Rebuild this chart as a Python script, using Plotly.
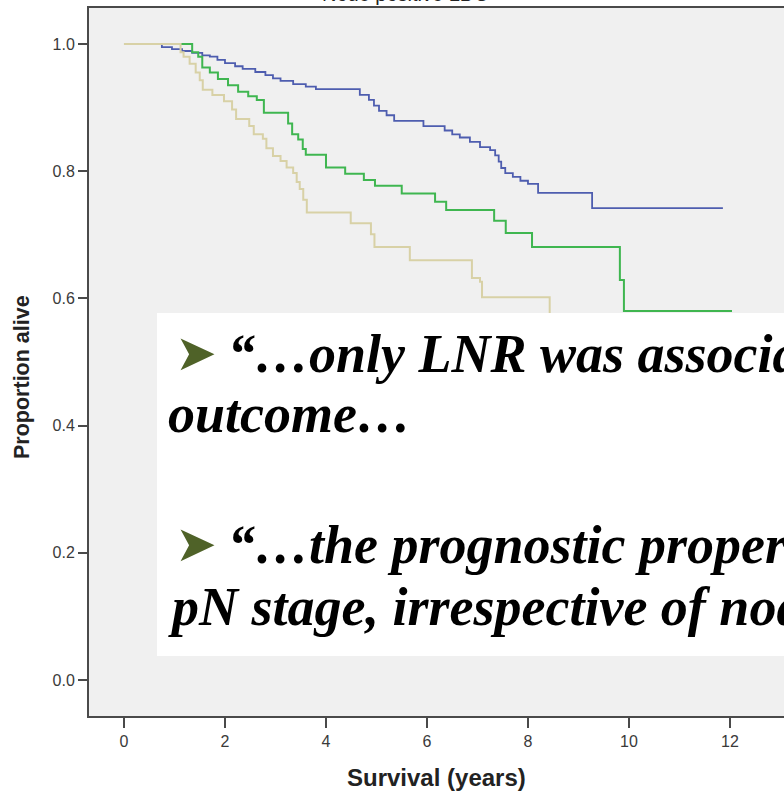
import plotly.graph_objects as go

# Kaplan-Meier step data: event times (years) and survival after each event
times_blue = [0.75, 0.95, 1.15, 1.35, 1.55, 1.70, 1.85, 2.00, 2.20, 2.35, 2.60, 2.80, 2.95,
              3.10, 3.35, 3.60, 3.80, 4.67, 4.85, 4.95, 5.05, 5.20, 5.35, 5.93, 6.35, 6.50,
              6.65, 6.85, 7.05, 7.25, 7.35, 7.42, 7.47, 7.55, 7.70, 7.85, 8.00, 8.20, 9.27]
surv_blue = [0.995, 0.992, 0.989, 0.986, 0.982, 0.980, 0.975, 0.970, 0.965, 0.961, 0.956, 0.951, 0.946,
             0.942, 0.937, 0.933, 0.929, 0.920, 0.912, 0.903, 0.895, 0.888, 0.879, 0.871, 0.864, 0.858,
             0.853, 0.846, 0.838, 0.833, 0.825, 0.815, 0.805, 0.797, 0.791, 0.785, 0.780, 0.766, 0.742]
end_blue = 11.86

times_green = [1.35, 1.47, 1.55, 1.70, 1.86, 2.06, 2.26, 2.46, 2.63, 2.77, 3.25, 3.33, 3.45,
               3.54, 3.60, 4.00, 4.38, 4.75, 4.97, 5.50, 6.16, 6.38, 7.33, 7.56, 8.08, 9.82, 9.90]
surv_green = [0.987, 0.980, 0.963, 0.955, 0.945, 0.935, 0.925, 0.918, 0.912, 0.892, 0.875, 0.858, 0.850,
              0.835, 0.826, 0.806, 0.796, 0.786, 0.777, 0.765, 0.752, 0.739, 0.722, 0.703, 0.681, 0.629, 0.580]
end_green = 12.04

times_tan = [1.12, 1.18, 1.30, 1.42, 1.50, 1.56, 1.75, 1.98, 2.14, 2.22, 2.48, 2.57, 2.75, 2.82,
             2.95, 3.10, 3.22, 3.35, 3.42, 3.48, 3.55, 3.62, 4.49, 4.89, 4.96, 5.66, 6.89, 7.05,
             7.09, 8.43]
surv_tan = [0.987, 0.980, 0.969, 0.955, 0.943, 0.928, 0.920, 0.910, 0.897, 0.882, 0.871, 0.858, 0.851, 0.836,
            0.824, 0.816, 0.806, 0.797, 0.783, 0.772, 0.755, 0.735, 0.718, 0.701, 0.681, 0.660, 0.632, 0.626,
            0.602, 0.540]
end_tan = 8.90

x_ticks = [0, 2, 4, 6, 8, 10, 12]
y_ticks = [0.0, 0.2, 0.4, 0.6, 0.8, 1.0]

chart_title = "Node positive LDC"
x_title = "Survival (years)"
y_title = "Proportion alive"

quote_lines = [
    ("\u27A4", "\u201C\u2026only LNR was associated with"),
    (None, "outcome\u2026"),
    ("\u27A4", "\u201C\u2026the prognostic properties of LNR are superior to"),
    (None, "pN stage, irrespective of nodes examined\u2026\u201D"),
]


def km_steps(times, surv, end):
    xs = [0.0] + list(times) + [end]
    ys = [1.0] + list(surv) + [surv[-1]]
    return xs, ys


W, H = 784, 793
ML, MR, MT, MB = 89, 0, 8, 77

fig = go.Figure()
series = [
    (times_blue, surv_blue, end_blue, "#4E5DAF", 1.8),
    (times_green, surv_green, end_green, "#3FB650", 2.0),
    (times_tan, surv_tan, end_tan, "#D8D1A6", 2.0),
]
for t, s, e, col, w in series:
    xs, ys = km_steps(t, s, e)
    fig.add_trace(go.Scatter(x=xs, y=ys, mode="lines", line=dict(color=col, width=w, shape="hv"),
                             showlegend=False, hoverinfo="skip"))

fig.update_layout(
    width=W, height=H,
    margin=dict(l=ML, r=MR, t=MT, b=MB, pad=0),
    paper_bgcolor="white",
    plot_bgcolor="#F0F0F0",
    font=dict(family="Liberation Sans, Arial, sans-serif", color="#333333", size=12),
    showlegend=False,
)

fig.update_xaxes(
    range=[-0.693, 13.07], tickvals=x_ticks, ticktext=[str(v) for v in x_ticks],
    showgrid=False, zeroline=False, showline=True, linecolor="#4a4a4a", linewidth=2, mirror=True,
    ticks="outside", ticklen=10, tickwidth=2, tickcolor="#4a4a4a",
    tickfont=dict(size=16, color="#3a3a3a"),
)
fig.update_yaxes(
    range=[-0.0566, 1.0566], tickvals=y_ticks, ticktext=["%.1f" % v for v in y_ticks],
    showgrid=False, zeroline=False, showline=True, linecolor="#4a4a4a", linewidth=2,
    ticks="outside", ticklen=9, tickwidth=2, tickcolor="#4a4a4a",
    tickfont=dict(size=16, color="#3a3a3a"),
)

PW = W - ML - MR
PH = H - MT - MB


def px_x(px):
    return (px - ML) / PW


def px_y(py):
    return 1 - (py - MT) / PH


# axis titles and the chart title (partly above the page edge)
fig.add_annotation(text="<b>%s</b>" % x_title, xref="paper", yref="paper",
                   x=px_x(436), y=px_y(777), showarrow=False, xanchor="center", yanchor="middle",
                   font=dict(family="Liberation Sans, Arial", size=24, color="#222222"))
fig.add_annotation(text="<b>%s</b>" % y_title, xref="paper", yref="paper",
                   x=px_x(22), y=px_y(377), showarrow=False, xanchor="center", yanchor="middle",
                   textangle=-90, font=dict(family="Liberation Sans, Arial", size=21.5, color="#222222"))
fig.add_annotation(text=chart_title, xref="paper", yref="paper",
                   x=px_x(405), y=px_y(-6), showarrow=False, xanchor="center", yanchor="middle",
                   font=dict(family="Liberation Sans, Arial", size=20, color="#222222"))

# white quotation panel
fig.add_shape(type="rect", xref="paper", yref="paper",
              x0=px_x(157), x1=1.0, y0=px_y(656), y1=px_y(313),
              fillcolor="white", line=dict(width=0), layer="above")

FS = 54
baselines = [372, 432, 563, 625]
for (bullet, txt), base in zip(quote_lines, baselines):
    cy = base - 0.3375 * FS
    if bullet:
        fig.add_annotation(text=bullet, xref="paper", yref="paper",
                           x=px_x(173), y=px_y(base - 19), showarrow=False,
                           xanchor="left", yanchor="middle",
                           font=dict(family="DejaVu Sans", size=50, color="#4F6228"))
        x0 = 226
    else:
        x0 = 166
    fig.add_annotation(text=txt, xref="paper", yref="paper",
                       x=px_x(x0), y=px_y(cy), showarrow=False,
                       xanchor="left", yanchor="middle",
                       font=dict(family="Liberation Serif, Times New Roman, serif", size=FS,
                                 color="black", weight="bold", style="italic"))

fig.write_html("out.html")
